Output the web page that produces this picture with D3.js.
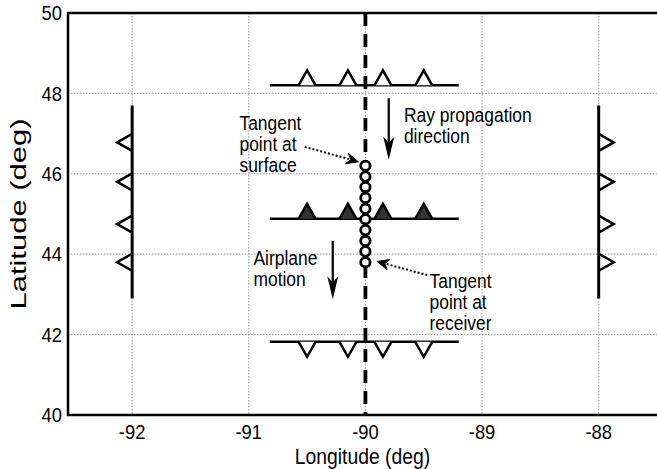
<!DOCTYPE html>
<html><head><meta charset="utf-8">
<script src="https://cdn.jsdelivr.net/npm/d3@7"></script>
<style>
body{margin:0;background:#fff;}
svg text{font-family:"Liberation Sans",Arial,Helvetica,sans-serif;fill:#000;}
</style></head>
<body><svg id="c" width="657" height="469"></svg>
<script>
// ---- data ----
const xTicks = [-92, -91, -90, -89, -88];
const yTicks = [40, 42, 44, 46, 48, 50];
const xTickLabels = ["-92", "-91", "-90", "-89", "-88"];
const yTickLabels = ["40", "42", "44", "46", "48", "50"];
const xDomain = [-92.55, -87.5];
const yDomain = [40, 50];
const centerLon = -90;
// horizontal lines
const hLineLats = [48.2, 44.88, 41.82];
const hLineKinds = ["up", "filled", "down"];
const hLineLon = [-90.82, -89.2];
const hTriLons = [-90.5, -90.15, -89.85, -89.5];
// vertical side lines
const vLineLons = [-92, -88];
const vLineKinds = ["left", "right"];
const vLineLat = [42.9, 47.7];
const vTriLats = [46.78, 45.8, 44.75, 43.8];
// tangent points
const circleLats = [46.2, 45.93, 45.67, 45.4, 45.13, 44.87, 44.6, 44.33, 44.07, 43.8];
// solid arrows [lon, latFrom, latTo]
const solidArrows = [[-89.8, 47.88, 46.35], [-90.28, 44.33, 42.88]];
// dotted arrows [lon0, lat0, lon1, lat1]
const dottedArrows = [[-90.52, 46.67, -90.06, 46.3], [-89.47, 43.48, -89.9, 43.82]];
// annotations [lon, lat, lines]
const notes = [
  [-89.67, 47.28, ["Ray propagation", "direction"]],
  [-91.08, 47.1, ["Tangent", "point at", "surface"]],
  [-90.96, 43.72, ["Airplane", "motion"]],
  [-89.45, 43.15, ["Tangent", "point at", "receiver"]]
];
const xTitle = "Longitude (deg)";
const yTitle = "Latitude (deg)";

// ---- drawing ----
const svg = d3.select("#c");
const L = 68, R = 657, T = 13, B = 415;
const x = d3.scaleLinear().domain(xDomain).range([L, R]);
const y = d3.scaleLinear().domain(yDomain).range([B, T]);
const SX = 0.92;

// grid
svg.append("g").selectAll("line").data(xTicks).join("line")
  .attr("x1", d => x(d)).attr("x2", d => x(d)).attr("y1", T).attr("y2", B)
  .attr("stroke", "#999").attr("stroke-width", 1).attr("stroke-dasharray", "1.5,1.5");
svg.append("g").selectAll("line").data(yTicks.filter(d => d > yDomain[0] && d < yDomain[1])).join("line")
  .attr("y1", d => y(d)).attr("y2", d => y(d)).attr("x1", L).attr("x2", R)
  .attr("stroke", "#999").attr("stroke-width", 1).attr("stroke-dasharray", "1.5,1.5");

// tick labels
svg.append("g").selectAll("text").data(xTicks).join("text")
  .attr("transform", d => `translate(${x(d)},${B + 24}) scale(${SX},1)`)
  .attr("text-anchor", "middle").attr("font-size", 20).text((d, i) => xTickLabels[i]);
svg.append("g").selectAll("text").data(yTicks).join("text")
  .attr("transform", d => `translate(${L - 6},${y(d) + 7.2}) scale(${SX},1)`)
  .attr("text-anchor", "end").attr("font-size", 20).text((d, i) => yTickLabels[i]);

// frame (left, top, bottom)
svg.append("path")
  .attr("d", `M${R + 5},${T}H${L}V${B}H${R + 5}`)
  .attr("fill", "none").attr("stroke", "#000").attr("stroke-width", 2.5);

// center dashed line
svg.append("line").attr("x1", x(centerLon)).attr("x2", x(centerLon))
  .attr("y1", y(yDomain[1])).attr("y2", y(yDomain[0]))
  .attr("stroke", "#000").attr("stroke-width", 3.8).attr("stroke-dasharray", "13,8");

// horizontal lines with triangles
const tb = 8.5, th = 15;
hLineLats.forEach((lat, i) => {
  const kind = hLineKinds[i];
  svg.append("line").attr("x1", x(hLineLon[0])).attr("x2", x(hLineLon[1]))
    .attr("y1", y(lat)).attr("y2", y(lat)).attr("stroke", "#000").attr("stroke-width", 2.5);
  const dir = kind === "down" ? 1 : -1;
  svg.selectAll(null).data(hTriLons).join("path")
    .attr("d", d => `M${x(d) - tb},${y(lat)}L${x(d)},${y(lat) + dir * th}L${x(d) + tb},${y(lat)}`)
    .attr("fill", kind === "filled" ? "#333" : "#fff")
    .attr("stroke", "#000").attr("stroke-width", 2.5);
});

// vertical side lines with triangles
vLineLons.forEach((lon, i) => {
  const dir = vLineKinds[i] === "left" ? -1 : 1;
  svg.selectAll(null).data(vTriLats).join("path")
    .attr("d", d => `M${x(lon)},${y(d) - tb}L${x(lon) + dir * th},${y(d)}L${x(lon)},${y(d) + tb}`)
    .attr("fill", "#fff").attr("stroke", "#000").attr("stroke-width", 2.5);
  svg.append("line").attr("x1", x(lon)).attr("x2", x(lon))
    .attr("y1", y(vLineLat[0])).attr("y2", y(vLineLat[1])).attr("stroke", "#000").attr("stroke-width", 3);
});

// tangent point circles
svg.selectAll(null).data(circleLats).join("circle")
  .attr("cx", x(centerLon)).attr("cy", d => y(d)).attr("r", 4.7)
  .attr("fill", "#fff").attr("stroke", "#000").attr("stroke-width", 2.8);

// solid arrows
solidArrows.forEach(([lon, a, b]) => {
  const X = x(lon), y0 = y(a), y1 = y(b);
  svg.append("line").attr("x1", X).attr("x2", X).attr("y1", y0).attr("y2", y1 - 16)
    .attr("stroke", "#000").attr("stroke-width", 2.2);
  svg.append("path").attr("d", `M${X - 5.5},${y1 - 23}L${X},${y1}L${X + 5.5},${y1 - 23}L${X},${y1 - 17}Z`)
    .attr("fill", "#000");
});

// dotted arrows
dottedArrows.forEach(([lo0, la0, lo1, la1]) => {
  const X0 = x(lo0), Y0 = y(la0), X1 = x(lo1), Y1 = y(la1);
  const ang = Math.atan2(Y1 - Y0, X1 - X0);
  const ex = X1 - 9 * Math.cos(ang), ey = Y1 - 9 * Math.sin(ang);
  svg.append("line").attr("x1", X0).attr("y1", Y0).attr("x2", ex).attr("y2", ey)
    .attr("stroke", "#000").attr("stroke-width", 2).attr("stroke-dasharray", "2,2");
  const hl = 13, hw = 0.42;
  const p1 = [X1 - hl * Math.cos(ang - hw), Y1 - hl * Math.sin(ang - hw)];
  const p2 = [X1 - hl * Math.cos(ang + hw), Y1 - hl * Math.sin(ang + hw)];
  const p3 = [X1 - 8 * Math.cos(ang), Y1 - 8 * Math.sin(ang)];
  svg.append("path").attr("d", `M${p1}L${X1},${Y1}L${p2}L${p3}Z`).attr("fill", "#000")
    .attr("stroke", "#000").attr("stroke-width", 1);
});

// annotations
notes.forEach(([lon, lat, lines]) => {
  const t = svg.append("text").attr("transform", `translate(${x(lon)},${y(lat)}) scale(0.83,1)`)
    .attr("font-size", 21);
  lines.forEach((s, i) => t.append("tspan").attr("x", 0).attr("y", i * 21).text(s));
});

// axis titles
svg.append("text").attr("transform", `translate(${(L + R) / 2},464) scale(0.86,1)`)
  .attr("text-anchor", "middle").attr("font-size", 22.5).text(xTitle);
svg.append("text").attr("transform", `translate(26,${(T + B) / 2}) rotate(-90) scale(1,0.74)`)
  .attr("text-anchor", "middle").attr("font-size", 31).text(yTitle);
</script></body></html>
